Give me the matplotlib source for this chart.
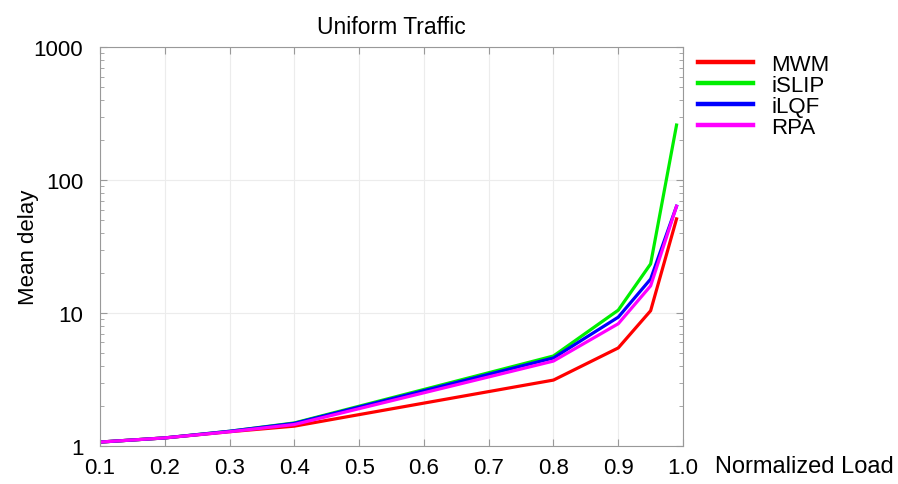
import matplotlib
matplotlib.use("Agg")
import matplotlib.pyplot as plt
from matplotlib.ticker import LogLocator, NullFormatter

plt.rcParams['font.family'] = ['Liberation Sans', 'DejaVu Sans']

# Data
load = [0.1, 0.2, 0.3, 0.4, 0.8, 0.9, 0.95, 0.99]
mwm = [1.07, 1.15, 1.28, 1.41, 3.13, 5.46, 10.4, 51]
islip = [1.07, 1.15, 1.29, 1.49, 4.75, 10.5, 23.4, 259]
ilqf = [1.07, 1.15, 1.29, 1.48, 4.59, 9.3, 18.0, 63.5]
rpa = [1.07, 1.15, 1.28, 1.45, 4.35, 8.3, 16.0, 63.5]

series = [("MWM", mwm, "#ff0000"), ("iSLIP", islip, "#00ee00"),
          ("iLQF", ilqf, "#0000ff"), ("RPA", rpa, "#ff00ff")]

xticks = [0.1, 0.2, 0.3, 0.4, 0.5, 0.6, 0.7, 0.8, 0.9, 1.0]
xticklabels = ["0.1", "0.2", "0.3", "0.4", "0.5", "0.6", "0.7", "0.8", "0.9", "1.0"]
yticks = [1, 10, 100, 1000]
yticklabels = ["1", "10", "100", "1000"]

fig = plt.figure(figsize=(8.98, 4.85), dpi=100)
ax = fig.add_axes([0.1114, 0.0784, 0.6492, 0.8226])

for name, vals, col in series:
    ax.plot(load, vals, color=col, lw=2.3, label=name)

ax.set_yscale("log")
ax.set_xlim(0.1, 1.0)
ax.set_ylim(1, 1000)
ax.set_xticks(xticks)
ax.set_xticklabels(xticklabels)
ax.set_yticks(yticks)
ax.set_yticklabels(yticklabels)
ax.yaxis.set_minor_locator(LogLocator(base=10, subs=range(2, 10)))
ax.yaxis.set_minor_formatter(NullFormatter())

ax.grid(True, which="major", color="#ececec", lw=0.8)
for s in ax.spines.values():
    s.set_color("#999999")
ax.tick_params(which="both", direction="in", top=True, right=True,
               colors="#999999", labelcolor="black", labelsize=16)
ax.tick_params(which="major", length=5)
ax.tick_params(which="minor", length=3)
ax.tick_params(axis="x", pad=8)
ax.tick_params(axis="y", pad=12)

ax.set_title("Uniform Traffic", fontsize=16.5, pad=10)
ax.set_ylabel("Mean delay", fontsize=16, labelpad=-4)
fig.text(0.796, 0.038, "Normalized Load", fontsize=17, ha="left", va="center")

ax.legend(loc="upper left", bbox_to_anchor=(1.01, 1.005), frameon=False,
          fontsize=16, handlelength=2.5, handletextpad=0.8, labelspacing=0.0,
          borderaxespad=0)
for line in ax.get_legend().get_lines():
    line.set_linewidth(3.2)

fig.savefig("out.png", dpi=100)
